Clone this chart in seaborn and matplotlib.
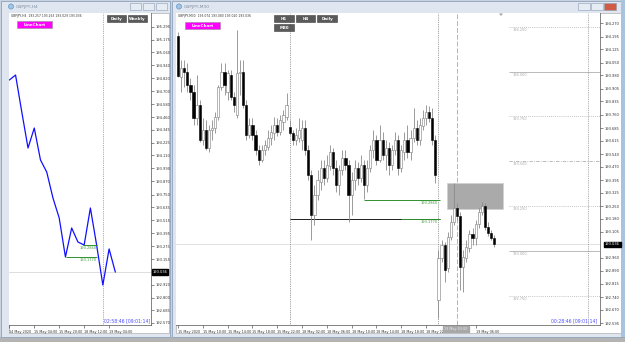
import numpy as np
import pandas as pd
import matplotlib
matplotlib.use("Agg")
import matplotlib.pyplot as plt
import seaborn as sns
from matplotlib.patches import Rectangle, Polygon
from matplotlib.transforms import blended_transform_factory as btf

sns.set_style("white")
plt.rcParams['font.family'] = ['DejaVu Sans']

# ---------------- data: H4 line chart (left window) ----------------
h4_labels_idx = [0, 4, 8, 12, 16]
h4_labels = ["14 May 2020", "15 May 04:00", "15 May 20:00", "18 May 12:00", "19 May 04:00"]
h4_close = [194.804, 194.850, 194.510, 194.178, 194.362, 194.068, 193.957, 193.718, 193.534,
            193.175, 193.442, 193.313, 193.285, 193.626, 193.285, 192.917, 193.249, 193.036]
h4_ticks = [195.295, 195.175, 195.060, 194.940, 194.820, 194.700, 194.580, 194.460, 194.345,
            194.225, 194.110, 193.990, 193.870, 193.750, 193.635, 193.515, 193.395, 193.275,
            193.155, 192.920, 192.800, 192.685, 192.570]

# ---------------- data: M30 candles (right window) ----------------
m30_open = [194.199, 193.970, 194.020, 193.998, 193.925, 193.886, 193.741, 193.814, 193.618, 193.674,
            193.574, 193.674, 193.685, 193.747, 193.914, 193.998, 193.886, 193.981, 193.858, 193.758,
            193.992, 193.998, 193.814, 193.646, 193.702, 193.646, 193.563, 193.507, 193.563, 193.579,
            193.630, 193.657, 193.702, 193.663, 193.719, 193.747, 193.691, 193.657, 193.618, 193.630,
            193.618, 193.685, 193.563, 193.423, 193.200, 193.311, 193.384, 193.462, 193.406, 193.473,
            193.551, 193.462, 193.367, 193.451, 193.518, 193.479, 193.311, 193.395, 193.462, 193.406,
            193.479, 193.367, 193.462, 193.563, 193.618, 193.507, 193.618, 193.535, 193.574, 193.479,
            193.563, 193.618, 193.462, 193.551, 193.618, 193.551, 193.630, 193.685, 193.618, 193.697,
            193.741, 193.775, 193.741, 193.618, 192.725, 192.960, 193.032, 192.904, 193.077, 193.161,
            193.239, 193.194, 192.909, 192.960, 193.015, 193.094, 193.071, 193.149, 193.216, 193.250,
            193.133, 193.099, 193.071]
m30_high = [194.221, 194.065, 194.065, 194.048, 193.965, 193.925, 193.981, 193.842, 193.741, 193.730,
            193.702, 193.730, 193.775, 193.925, 194.048, 194.048, 194.009, 194.009, 193.886, 194.233,
            194.065, 194.065, 193.842, 193.741, 193.741, 193.674, 193.590, 193.590, 193.618, 193.674,
            193.702, 193.747, 193.741, 193.758, 193.786, 193.881, 193.730, 193.674, 193.685, 193.741,
            193.730, 193.730, 193.590, 193.451, 193.367, 193.451, 193.507, 193.507, 193.535, 193.590,
            193.574, 193.507, 193.479, 193.563, 193.563, 193.507, 193.440, 193.507, 193.496, 193.535,
            193.507, 193.507, 193.590, 193.674, 193.646, 193.702, 193.663, 193.618, 193.607, 193.590,
            193.663, 193.646, 193.590, 193.663, 193.702, 193.674, 193.797, 193.730, 193.741, 193.786,
            193.814, 193.808, 193.797, 193.646, 193.004, 193.060, 193.049, 193.105, 193.200, 193.378,
            193.267, 193.216, 193.004, 193.060, 193.116, 193.127, 193.172, 193.239, 193.272, 193.267,
            193.161, 193.116, 193.088]
m30_low = [193.970, 193.886, 193.914, 193.886, 193.842, 193.702, 193.702, 193.607, 193.590, 193.563,
           193.551, 193.618, 193.657, 193.730, 193.898, 193.870, 193.842, 193.842, 193.775, 193.741,
           193.870, 193.797, 193.618, 193.630, 193.618, 193.535, 193.479, 193.496, 193.535, 193.563,
           193.590, 193.618, 193.641, 193.646, 193.674, 193.730, 193.646, 193.590, 193.590, 193.607,
           193.563, 193.535, 193.395, 193.060, 193.144, 193.283, 193.339, 193.367, 193.384, 193.451,
           193.423, 193.328, 193.311, 193.423, 193.451, 193.161, 193.200, 193.339, 193.367, 193.384,
           193.289, 193.328, 193.440, 193.518, 193.479, 193.496, 193.507, 193.451, 193.423, 193.451,
           193.535, 193.423, 193.440, 193.507, 193.518, 193.507, 193.607, 193.590, 193.590, 193.674,
           193.702, 193.719, 193.590, 193.378, 192.625, 192.937, 192.826, 192.881, 193.060, 193.144,
           193.172, 192.781, 192.770, 192.937, 192.993, 193.032, 193.032, 193.127, 193.200, 193.116,
           193.082, 193.060, 193.021]
m30_close = [193.976, 194.020, 193.998, 193.925, 193.886, 193.741, 193.814, 193.618, 193.674, 193.574,
             193.674, 193.685, 193.747, 193.914, 193.998, 193.925, 193.992, 193.858, 193.814, 193.992,
             193.998, 193.814, 193.646, 193.702, 193.646, 193.563, 193.507, 193.563, 193.590, 193.630,
             193.663, 193.702, 193.663, 193.730, 193.758, 193.814, 193.657, 193.618, 193.646, 193.674,
             193.685, 193.563, 193.423, 193.200, 193.311, 193.395, 193.462, 193.406, 193.479, 193.551,
             193.462, 193.367, 193.451, 193.518, 193.479, 193.311, 193.395, 193.462, 193.406, 193.479,
             193.367, 193.462, 193.563, 193.618, 193.507, 193.618, 193.535, 193.574, 193.479, 193.563,
             193.618, 193.462, 193.563, 193.618, 193.551, 193.630, 193.685, 193.618, 193.702, 193.741,
             193.775, 193.741, 193.618, 193.423, 192.960, 193.032, 192.893, 193.077, 193.161, 193.239,
             193.194, 192.909, 192.965, 193.021, 193.094, 193.071, 193.149, 193.216, 193.250, 193.133,
             193.099, 193.071, 193.036]
m30_labels_idx = [0, 8, 16, 24, 32, 40, 48, 56, 64, 72, 80, 96]
m30_labels = ["15 May 2020", "15 May 10:00", "15 May 14:00", "15 May 18:00", "15 May 22:00",
              "18 May 02:00", "18 May 06:00", "18 May 10:00", "18 May 14:00", "18 May 18:00",
              "18 May 22:00", "19 May 06:00"]
m30_ticks = [194.270, 194.195, 194.125, 194.050, 193.980, 193.905, 193.835, 193.760, 193.685,
             193.615, 193.540, 193.470, 193.395, 193.325, 193.250, 193.180, 193.105, 192.960,
             192.890, 192.815, 192.740, 192.670, 192.595]
round_levels = [194.25, 194.00, 193.75, 193.50, 193.25, 193.00, 192.75]
round_styles = [(0, (1, 1.5)), '-', (0, (1, 1.5)), (0, (4, 1.5, 1, 1.5)), (0, (1, 1.5)), '-', (0, (1, 1.5))]
current_price = 193.036
level_hi, level_lo = 193.286, 193.177

# ---------------- figure ----------------
W, H = 625, 342
fig = plt.figure(figsize=(6.25, 3.42), dpi=100)


def px_axes(x0, y0, x1, y1):
    return fig.add_axes([x0 / W, 1 - y1 / H, (x1 - x0) / W, (y1 - y0) / H])


canvas = px_axes(0, 0, W, H)
canvas.set_xlim(0, W); canvas.set_ylim(H, 0); canvas.axis('off')
canvas.add_patch(Rectangle((0, 0), W, H, fc='#c9d3df', ec='none'))
canvas.add_patch(Rectangle((0, 337), W, 5, fc='#b4b4b4', ec='none'))
for (x0, x1) in [(0.5, 170), (172, 624.5)]:
    canvas.add_patch(Rectangle((x0, 0.5), x1 - x0, 336, fc='#dfe6ef', ec='#8ea3bc', lw=0.6))
canvas.add_patch(Rectangle((9, 13), 160, 320, fc='white', ec='#a0a0a0', lw=0.4))
canvas.add_patch(Rectangle((176, 13), 445, 320, fc='white', ec='#a0a0a0', lw=0.4))
canvas.add_patch(Rectangle((621, 0), 4, 337, fc='#a9c3de', ec='none'))

# ---------------- left chart ----------------
axL = px_axes(9, 13, 151, 325)
axL.set_facecolor('white')
dfL = pd.DataFrame({'bar': np.arange(len(h4_close)), 'close': h4_close})
sns.lineplot(data=dfL, x='bar', y='close', ax=axL, color='#1010ff', lw=0.9, legend=False, zorder=4)
axL.set_xlim(-0.05, 22.72)
axL.set_ylim(192.549, 195.421)
axL.axvline(15, color='#909090', ls=(0, (1, 1.2)), lw=0.6)
axL.axhline(current_price, color='#d0d0d0', lw=0.5)
axL.hlines(level_hi, 11.85, 14.1, color='#2f8f2f', lw=0.7, zorder=5)
axL.hlines(level_lo, 9.1, 14.1, color='#2f8f2f', lw=0.7, zorder=5)
axL.text(14.1, level_hi - 0.01, '193.2860', ha='right', va='top', fontsize=2.6, color='#3c9a3c')
axL.text(14.1, level_lo - 0.01, '193.1770', ha='right', va='top', fontsize=2.6, color='#3c9a3c')
axL.set_xlabel(''); axL.set_ylabel('')

# ---------------- right chart ----------------
axR = px_axes(176, 13, 600, 325)
axR.set_facecolor('white')
dfR = pd.DataFrame({'bar': np.arange(len(m30_close)), 'o': m30_open, 'h': m30_high,
                    'l': m30_low, 'c': m30_close})
axR.set_xlim(-0.645, 136.1)
axR.set_ylim(192.586, 194.327)
axR.axhline(current_price, color='#d4d4d4', lw=0.5, zorder=0)
for lv, st in zip(round_levels, round_styles):
    axR.hlines(lv, 106.8, 136.1, color='#b0b0b0', lw=0.6, ls=st, zorder=1)
    axR.text(107.8, lv - 0.006, f'{lv:.3f}', ha='left', va='top', fontsize=2.5, color='#a8a8a8')
for d in [36, 84]:
    axR.axvline(d, color='#808080', ls=(0, (1, 1.2)), lw=0.6, zorder=1)
axR.axvline(90, color='#b4b4b4', ls=(0, (5, 2)), lw=0.7, zorder=1)
axR.axvline(132.3, color='#909090', ls=(0, (1, 1.2)), lw=0.6, zorder=1)
axR.add_patch(Rectangle((86.8, 193.233), 18.0, 0.145, fc='#aaaaaa', ec='#d0d0d0', lw=0.5, zorder=1.5))
axR.hlines(level_lo, 36, 84.5, color='#1e1e1e', lw=0.7, zorder=1.6)
axR.hlines(level_lo, 72, 84.5, color='#2f8f2f', lw=0.7, zorder=1.7)
axR.hlines(level_hi, 60, 84.5, color='#2f8f2f', lw=0.7, zorder=1.7)
axR.text(83.7, level_hi - 0.006, '193.2860', ha='right', va='top', fontsize=2.6, color='#3c9a3c')
axR.text(83.7, level_lo - 0.006, '193.1770', ha='right', va='top', fontsize=2.6, color='#3c9a3c')

bull = dfR.c >= dfR.o
lo = np.minimum(dfR.o, dfR.c)
hgt = np.maximum(np.abs(dfR.c - dfR.o), 0.004)
axR.vlines(dfR.bar, dfR.l, dfR.h, color='#8a8a8a', lw=0.6, zorder=2)
axR.bar(dfR.bar[bull], hgt[bull], bottom=lo[bull], width=0.72, color='white',
        edgecolor='#7a7a7a', lw=0.4, zorder=3)
axR.bar(dfR.bar[~bull], hgt[~bull], bottom=lo[~bull], width=0.72, color='black',
        edgecolor='black', lw=0.4, zorder=3)

# ---------------- axes styling ----------------
for ax, ticks, xi, xl in [(axL, h4_ticks, h4_labels_idx, h4_labels),
                          (axR, m30_ticks, m30_labels_idx, m30_labels)]:
    for s in ax.spines.values():
        s.set_color('#505050'); s.set_linewidth(0.5)
    ax.spines['top'].set_visible(False)
    ax.spines['left'].set_visible(False)
    ax.yaxis.tick_right()
    ax.set_yticks(ticks)
    ax.set_yticklabels([f'{t:.3f}' for t in ticks])
    ax.set_xticks(xi)
    ax.set_xticklabels(xl, ha='left')
    ax.tick_params(axis='y', length=2, width=0.4, labelsize=2.6, pad=1.5, colors='#333333',
                   right=True, left=False)
    ax.tick_params(axis='x', length=2.2, width=0.4, labelsize=2.4, pad=1.2, colors='#333333',
                   bottom=True)
    ax.set_xlabel(''); ax.set_ylabel('')
    ax.text(1.012, current_price, f'{current_price:.3f}', transform=btf(ax.transAxes, ax.transData),
            ha='left', va='center', fontsize=2.6, color='white', clip_on=False,
            bbox=dict(fc='black', ec='black', pad=0.5))

# ---------------- overlay: title bars, buttons, texts ----------------
ov = px_axes(0, 0, W, H)
ov.set_xlim(0, W); ov.set_ylim(H, 0); ov.axis('off'); ov.patch.set_alpha(0)


def button(x0, y0, x1, y1, text, fc, tc='white', ec='#404040', fs=2.9):
    ov.add_patch(Rectangle((x0, y0), x1 - x0, y1 - y0, fc=fc, ec=ec, lw=0.4))
    ov.text((x0 + x1) / 2, (y0 + y1) / 2 + 0.3, text, ha='center', va='center', fontsize=fs,
            color=tc, fontweight='bold')


# title bars
ov.add_patch(plt.Circle((11, 6.5), 2.6, fc='#9ec3e6', ec='#5f8fbf', lw=0.4))
ov.text(16, 6.8, 'GBPJPY,H4', fontsize=3.2, color='#8090a8', va='center')
ov.add_patch(plt.Circle((179, 6.5), 2.6, fc='#9ec3e6', ec='#5f8fbf', lw=0.4))
ov.text(184, 6.8, 'GBPJPY,M30', fontsize=3.2, color='#8090a8', va='center')
for x0 in [130, 143, 156]:
    ov.add_patch(Rectangle((x0, 3), 11, 7, fc='#e6ecf3', ec='#8c9db2', lw=0.4))
for x0, fc in [(578, '#e6ecf3'), (591, '#e6ecf3'), (604, '#cf5a46')]:
    ov.add_patch(Rectangle((x0, 3), 12, 7, fc=fc, ec='#8c9db2', lw=0.4))

# chart info text
ov.text(11, 16.5, 'GBPJPY,H4  193.257 193.263 193.029 193.036', fontsize=2.2, color='#333333', va='center')
ov.text(178, 16.5, 'GBPJPY,M30  193.074 193.080 193.020 193.036', fontsize=2.2, color='#333333', va='center')

# buttons
button(17, 21, 52, 27.5, 'LineChart', '#ff00ff', ec='#909090')
button(185, 22, 220, 29, 'LineChart', '#ff00ff', ec='#909090')
button(107, 15, 126, 22, 'Daily', '#5a5a5a')
button(128, 15, 147, 22, 'Weekly', '#5a5a5a')
button(274, 15, 294, 22, 'H1', '#5a5a5a')
button(296, 15, 315, 22, 'H4', '#5a5a5a')
button(317, 15, 337, 22, 'Daily', '#5a5a5a')
button(274, 24, 294, 31, 'M30', '#5a5a5a')

# shift marker
ov.add_patch(Polygon([[499, 13.5], [503, 13.5], [501, 16]], closed=True, fc='#a0a0a0', ec='none'))

# vertical-line date label on time axis
ov.text(456, 329, '19 May 03:00', ha='center', va='center', fontsize=2.4, color='#e8e8e8',
        bbox=dict(fc='#a8a8a8', ec='#a8a8a8', pad=0.8))

# timers
ov.text(150, 321, '02:58:46 [09:01:14]', ha='right', va='center', fontsize=3.3, color='#4a4aff')
ov.text(597, 321, '00:28:46 [09:01:14]', ha='right', va='center', fontsize=3.3, color='#4a4aff')

fig.savefig('out.png', dpi=100)
